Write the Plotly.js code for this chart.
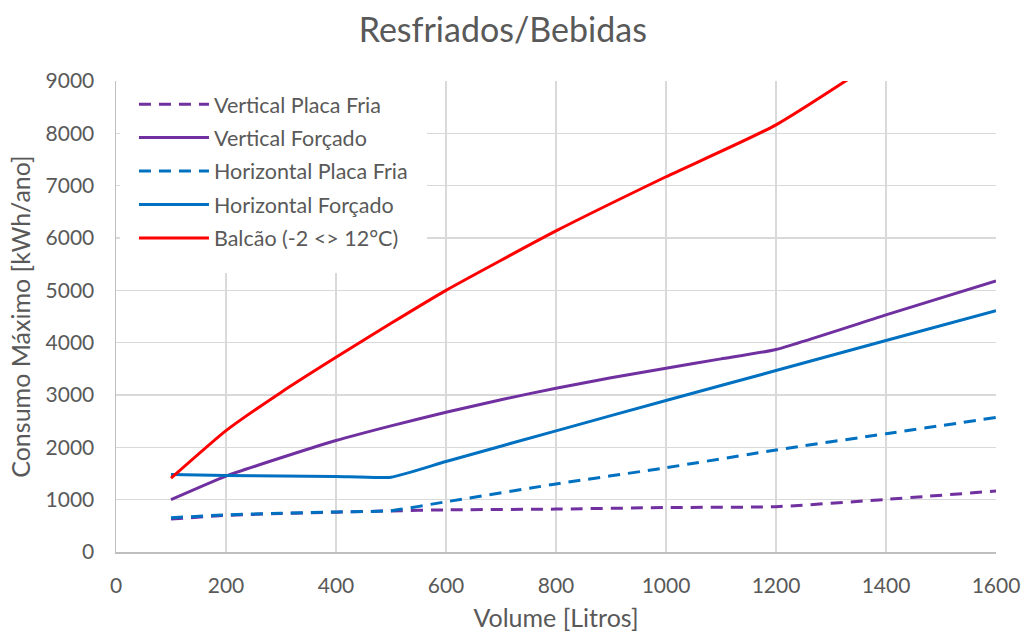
<!DOCTYPE html>
<html>
<head>
<meta charset="utf-8">
<script src="https://cdn.plot.ly/plotly-3.0.1.min.js"></script>
<style>html,body{margin:0;padding:0;background:#fff;}#chart{width:1024px;height:634px;}</style>
</head>
<body>
<div id="chart"></div>
<script>
// Volumes [Litros]
const volVPF = [100, 200, 300, 400, 500, 600, 800, 1000, 1200, 1400, 1600];
const valVPF = [630, 700, 735, 760, 785, 805, 820, 850, 866, 1005, 1165];

const volVF = [100, 200, 300, 400, 500, 600, 700, 800, 900, 1000, 1100, 1200, 1400, 1600];
const valVF = [1000, 1450, 1800, 2130, 2410, 2670, 2910, 3130, 3330, 3510, 3690, 3870, 4530, 5180];

const volHPF = [100, 200, 300, 400, 500, 600, 800, 1000, 1200, 1400, 1600];
const valHPF = [655, 710, 740, 765, 790, 960, 1300, 1610, 1950, 2260, 2570];

const volHF = [100, 200, 300, 400, 500, 600, 800, 1000, 1200, 1400, 1600];
const valHF = [1480, 1462, 1452, 1445, 1430, 1730, 2315, 2895, 3467, 4040, 4610];

const volBal = [100, 200, 300, 400, 500, 600, 800, 1000, 1200, 1600];
const valBal = [1410, 2320, 3050, 3720, 4370, 5000, 6135, 7170, 8162, 10900];

const seriesNames = ["Vertical Placa Fria", "Vertical Forçado", "Horizontal Placa Fria", "Horizontal Forçado", "Balcão (-2 <> 12°C)"];
const seriesColors = ["#7030A0", "#7030A0", "#0070C0", "#0070C0", "#FF0000"];
const seriesDash = ["12px,8px", "solid", "12px,8px", "solid", "solid"];

const xs = [volVPF, volVF, volHPF, volHF, volBal];
const ys = [valVPF, valVF, valHPF, valHF, valBal];

const traces = xs.map((x, i) => ({
  type: "scatter",
  mode: "lines",
  x: x,
  y: ys[i],
  name: seriesNames[i],
  legendgroup: "g" + i,
  line: {color: seriesColors[i], width: 3, dash: seriesDash[i], shape: "spline", smoothing: 0.5},
  hoverinfo: "x+y+name"
}));

const font = "Lato, 'Open Sans', sans-serif";
const grey = "#595959";

const layout = {
  width: 1024,
  height: 634,
  margin: {l: 116, r: 28, t: 81, b: 82},
  paper_bgcolor: "#ffffff",
  plot_bgcolor: "#ffffff",
  font: {family: font, color: grey, size: 21},
  title: {text: "Resfriados/Bebidas", font: {family: font, size: 34, color: grey}, x: 0.491, xanchor: "center", y: 0.952, yanchor: "middle"},
  xaxis: {
    range: [0, 1600],
    dtick: 200,
    tick0: 0,
    showgrid: true,
    gridcolor: "#d9d9d9",
    gridwidth: 1.5,
    zeroline: false,
    showline: true,
    linecolor: "#bfbfbf",
    linewidth: 1.5,
    ticks: "",
    ticklabelstandoff: 14,
    tickfont: {family: font, size: 21, color: grey},
    title: {text: "Volume [Litros]", font: {family: font, size: 25, color: grey}, standoff: 14}
  },
  yaxis: {
    range: [0, 9000],
    dtick: 1000,
    tick0: 0,
    showgrid: true,
    gridcolor: "#d9d9d9",
    gridwidth: 1.5,
    zeroline: false,
    showline: true,
    linecolor: "#bfbfbf",
    linewidth: 1.5,
    ticks: "",
    ticklabelstandoff: 16,
    tickfont: {family: font, size: 21, color: grey},
    title: {text: "Consumo Máximo [kWh/ano]", font: {family: font, size: 25, color: grey}, standoff: 8}
  },
  showlegend: true,
  legend: {
    x: 0.0045,
    y: 1.024,
    xanchor: "left",
    yanchor: "top",
    bgcolor: "#ffffff",
    bordercolor: "#ffffff",
    borderwidth: 14,
    font: {family: font, size: 21.5, color: grey},
    itemwidth: 70,
    tracegroupgap: 2.5,
    traceorder: "grouped"
  }
};

Plotly.newPlot("chart", traces, layout, {displayModeBar: false, staticPlot: true});
</script>
</body>
</html>
